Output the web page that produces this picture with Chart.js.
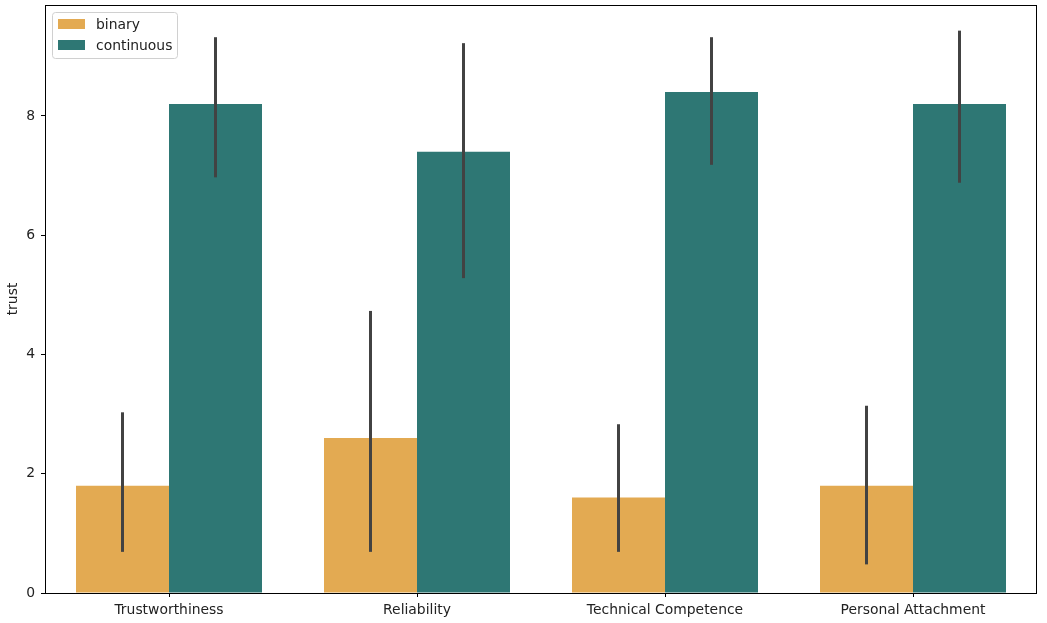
<!DOCTYPE html>
<html>
<head>
<meta charset="utf-8">
<script src="https://cdn.jsdelivr.net/npm/chart.js@4"></script>
<style>
    html, body { margin: 0; padding: 0; background: #fff; }
    #wrap { width: 1047px; height: 623px; }
</style>
</head>
<body>
<div id="wrap"><canvas id="trustChart"></canvas></div>
<script>
// Dati
const categories = ['Trustworthiness', 'Reliability', 'Technical Competence', 'Personal Attachment'];
const binaryValues = [1.8, 2.6, 1.6, 1.8];
const continuousValues = [8.2, 7.4, 8.4, 8.2];
const binaryLow = [0.69, 0.69, 0.69, 0.48];
const binaryHigh = [3.03, 4.73, 2.83, 3.14];
const continuousLow = [6.97, 5.28, 7.18, 6.88];
const continuousHigh = [9.32, 9.22, 9.32, 9.43];
const yTicks = [0, 2, 4, 6, 8];

const FONT = { family: 'DejaVu Sans', size: 13.9 };

// Barre d'errore + cornice + legenda
const extrasPlugin = {
    id: 'extras',
    afterDatasetsDraw(chart) {
        const ctx = chart.ctx;
        const y = chart.scales.y;
        const ranges = [[binaryLow, binaryHigh], [continuousLow, continuousHigh]];
        ctx.save();
        ctx.strokeStyle = '#424242';
        ctx.lineWidth = 3;
        ctx.lineCap = 'butt';
        ranges.forEach(([lo, hi], di) => {
            chart.getDatasetMeta(di).data.forEach((bar, i) => {
                ctx.beginPath();
                ctx.moveTo(bar.x, y.getPixelForValue(lo[i]));
                ctx.lineTo(bar.x, y.getPixelForValue(hi[i]));
                ctx.stroke();
            });
        });
        ctx.restore();
    },
    afterDraw(chart) {
        const ctx = chart.ctx;
        const a = chart.chartArea;
        ctx.save();
        ctx.strokeStyle = '#000';
        ctx.lineWidth = 1;
        ctx.strokeRect(a.left + 0.5, a.top + 0.5, a.right - a.left - 1, a.bottom - a.top);

        // legenda
        const lx = a.left + 7, ly = a.top + 7;
        ctx.fillStyle = 'rgba(255,255,255,0.8)';
        ctx.strokeStyle = '#d0d0d0';
        ctx.beginPath();
        ctx.roundRect(lx + 0.5, ly + 0.5, 125, 46, 3);
        ctx.fill();
        ctx.stroke();
        const items = chart.data.datasets;
        ctx.font = '13.9px DejaVu Sans';
        ctx.textBaseline = 'middle';
        items.forEach((ds, i) => {
            const rowY = ly + 12 + i * 21;
            ctx.fillStyle = ds.backgroundColor;
            ctx.fillRect(lx + 6, rowY - 5, 27, 10);
            ctx.fillStyle = '#222';
            ctx.fillText(ds.label, lx + 44, rowY + 1);
        });
        ctx.restore();
    }
};

new Chart(document.getElementById('trustChart'), {
    type: 'bar',
    data: {
        labels: categories,
        datasets: [
            { label: 'binary', data: binaryValues, backgroundColor: '#e3aa52' },
            { label: 'continuous', data: continuousValues, backgroundColor: '#2e7774' }
        ]
    },
    options: {
        responsive: true,
        maintainAspectRatio: false,
        animation: false,
        datasets: { bar: { categoryPercentage: 0.75, barPercentage: 1.0 } },
        layout: { padding: { top: 5, right: 10, left: 5, bottom: 0 } },
        plugins: { legend: { display: false }, tooltip: { enabled: false } },
        scales: {
            x: {
                grid: { offset: false, drawOnChartArea: false, drawTicks: true, tickLength: 4, color: '#000' },
                border: { display: false },
                ticks: { color: '#222', font: FONT, padding: 5, maxRotation: 0 },
                afterFit: (s) => { s.height = 30; s.paddingLeft = 0; s.paddingRight = 0; }
            },
            y: {
                min: 0,
                max: 9.86,
                grid: { drawOnChartArea: false, drawTicks: true, tickLength: 4, color: '#000' },
                border: { display: false },
                afterBuildTicks: (s) => { s.ticks = yTicks.map(v => ({ value: v })); },
                ticks: { color: '#222', font: FONT, padding: 6 },
                title: { display: true, text: 'trust', color: '#222', font: FONT, padding: 0 },
                afterFit: (s) => { s.width = 40; s.paddingTop = 0; s.paddingBottom = 0; }
            }
        }
    },
    plugins: [extrasPlugin]
});
</script>
</body>
</html>
